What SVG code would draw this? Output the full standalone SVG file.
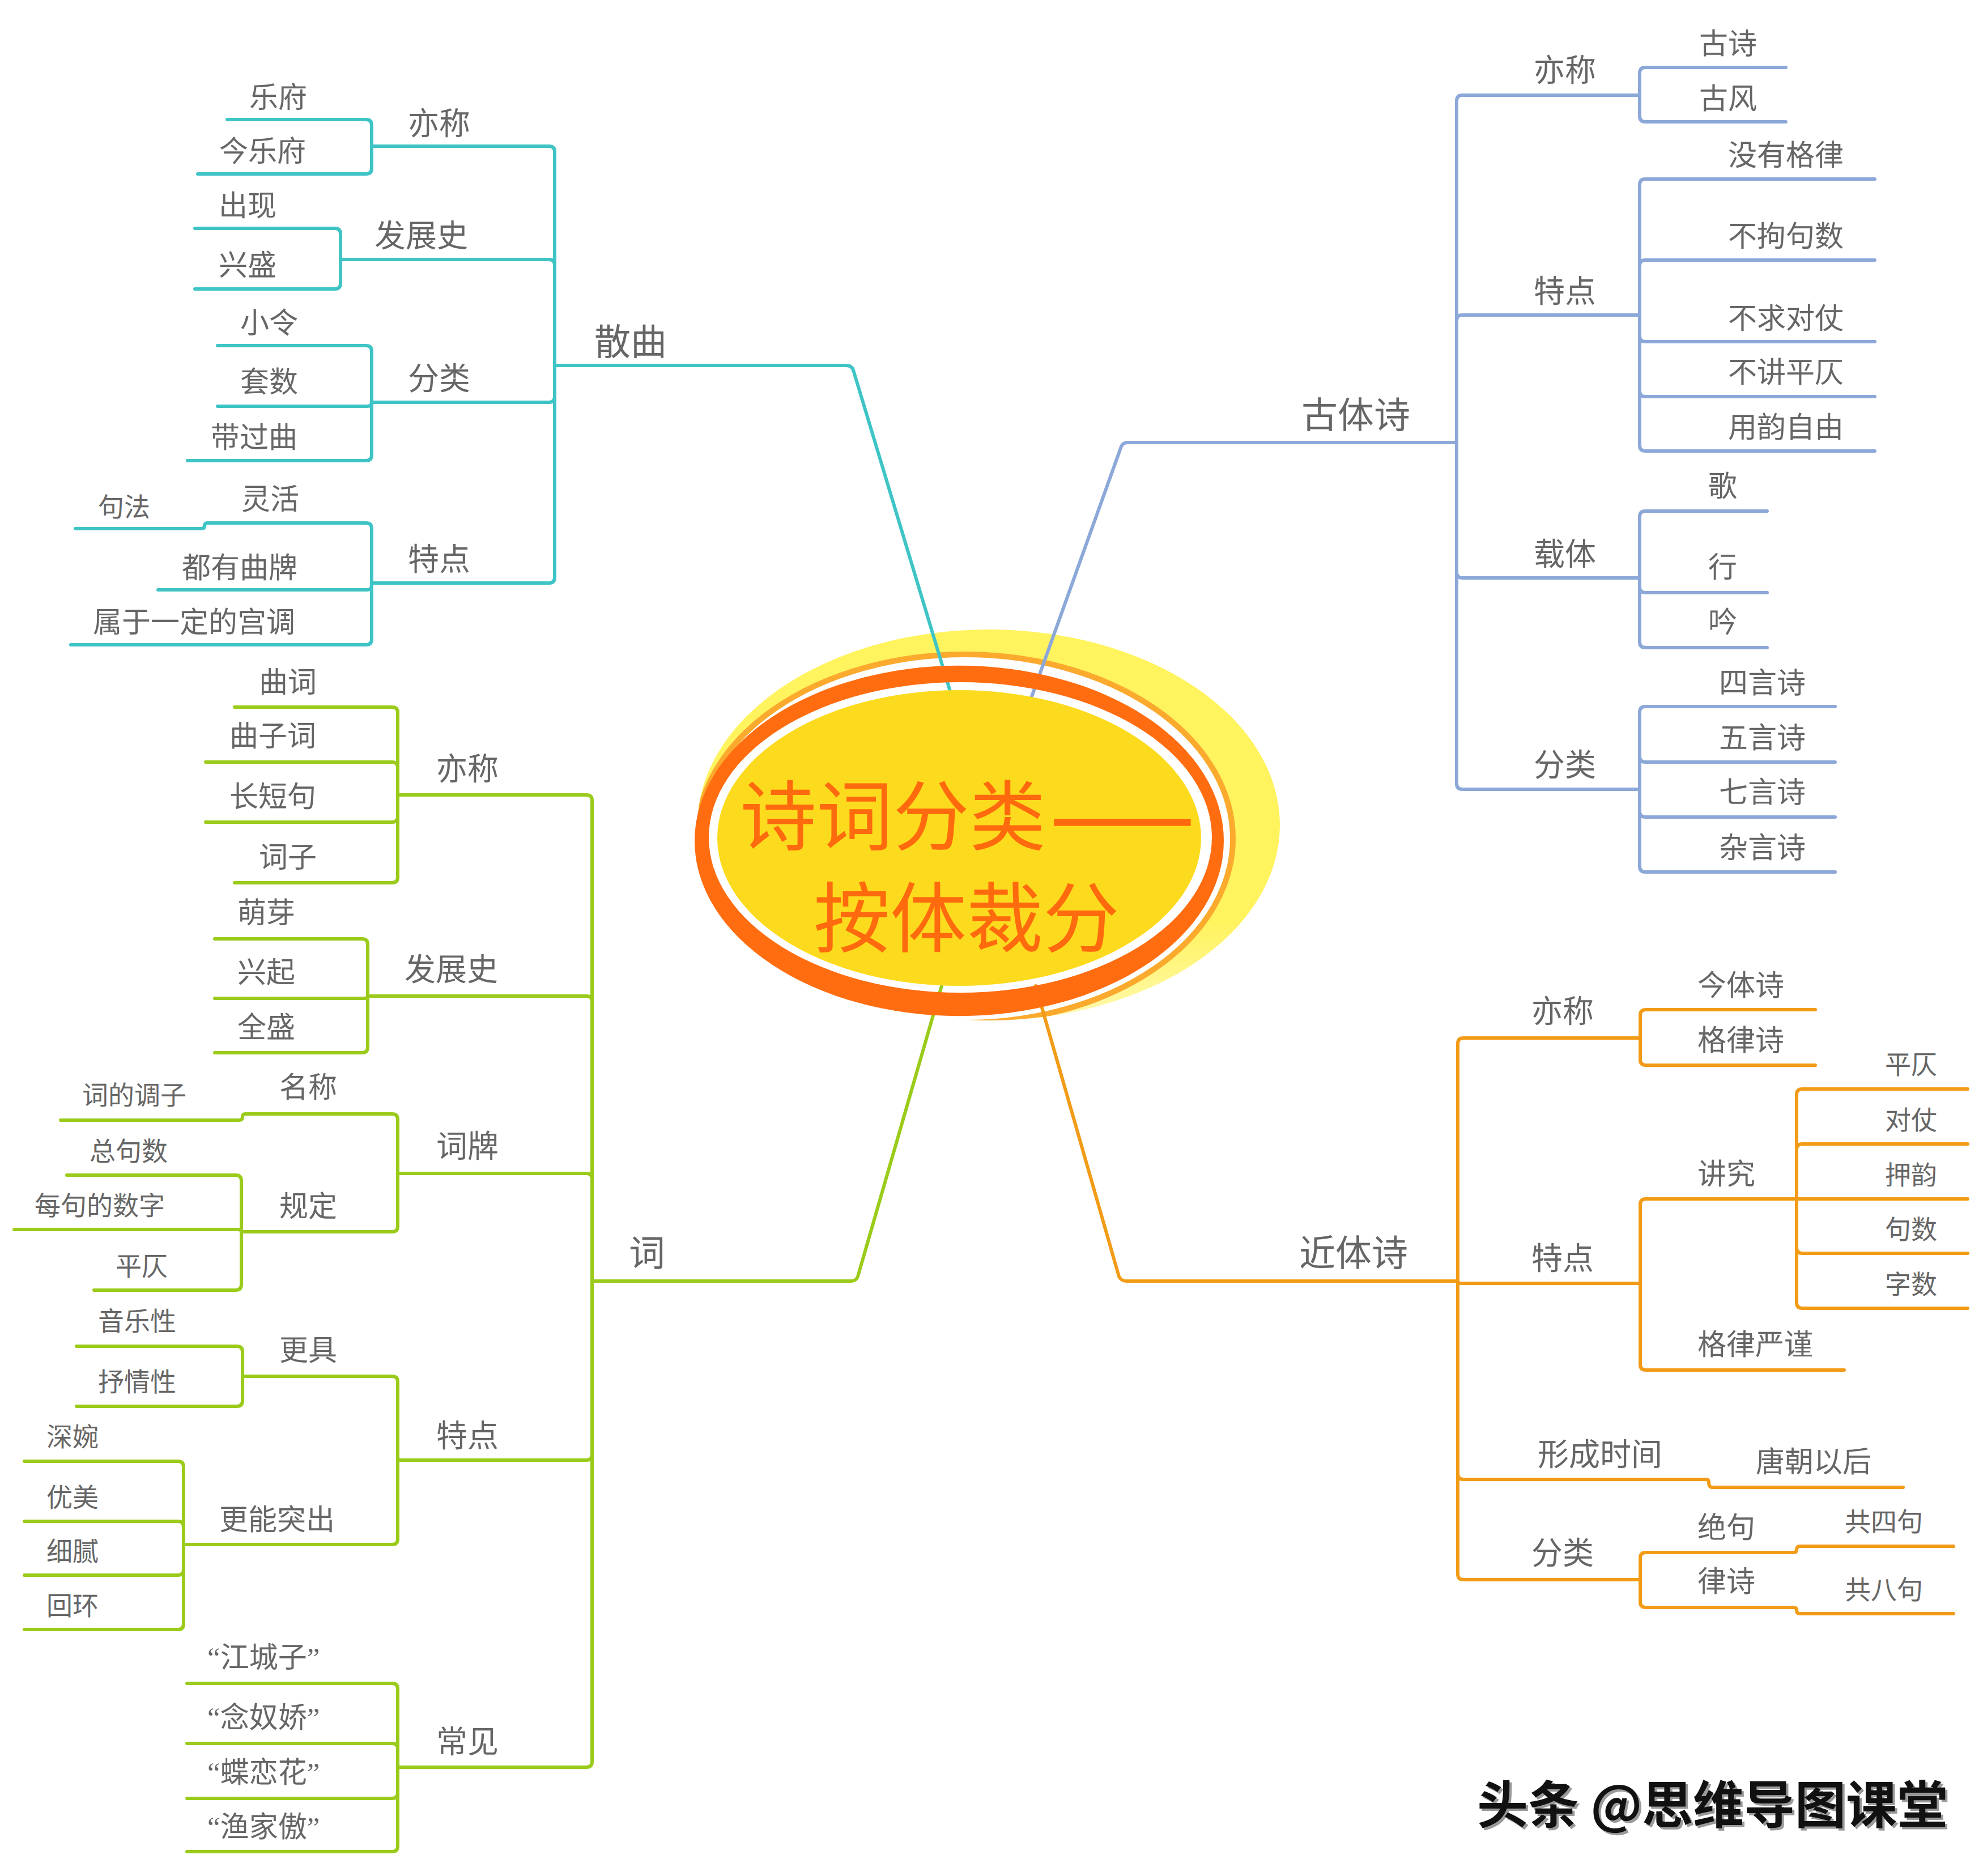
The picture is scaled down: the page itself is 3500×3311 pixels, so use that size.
<svg xmlns="http://www.w3.org/2000/svg" width="3500" height="3311" viewBox="0 0 3500 3311">
<defs>
<style>
.t{font-family:"Liberation Serif","Noto Sans CJK SC",serif;fill:#666666}
.l1{font-size:64px}.l2{font-size:55px}.l3{font-size:51px}.l4{font-size:46px}
.c{fill:none;stroke-width:6;stroke-linecap:round;stroke-linejoin:round}
.teal{stroke:#3FC4C6}.blue{stroke:#8CA8D8}.green{stroke:#9BCB1A}.orange{stroke:#F29B17}
.title{font-family:"Noto Sans CJK SC",sans-serif;font-size:135px;fill:#FF6A0E}
.wm{font-family:"Noto Sans CJK SC",sans-serif;font-weight:700;font-size:90px;fill:#111}
</style>
<clipPath id="glowclip"><ellipse cx="1745" cy="1456" rx="514" ry="345"/></clipPath>
<linearGradient id="glowfill" x1="0" y1="0" x2="0" y2="1">
<stop offset="0" stop-color="#FFF35E"/>
<stop offset="0.75" stop-color="#FFF35E"/>
<stop offset="1" stop-color="#FFF9B0"/>
</linearGradient>
</defs>
<rect width="3500" height="3311" fill="#ffffff"/>
<g id="center-back">
<ellipse cx="1745" cy="1456" rx="514" ry="345" fill="url(#glowfill)"/>
<ellipse cx="1703" cy="1480" rx="473" ry="325" fill="#ffffff"/>
<ellipse cx="1703" cy="1480" rx="473" ry="325" fill="none" stroke="#FBAA2E" stroke-width="10" clip-path="url(#glowclip)"/>
</g>
<g id="connectors">
<g class="c teal">
<path d="M 1680,1230 L 1506,653 Q 1503,645 1494,645 H 979"/>
<path d="M 979,645 V 268 Q 979,258 969,258 H 656"/>
<path d="M 979,645 V 468 Q 979,458 969,458 H 601"/>
<path d="M 979,645 V 700 Q 979,710 969,710 H 656"/>
<path d="M 979,645 V 1019 Q 979,1029 969,1029 H 656"/>
<path d="M 656,258 V 221 Q 656,211 646,211 H 401"/>
<path d="M 656,258 V 297 Q 656,307 646,307 H 349"/>
<path d="M 601,458 V 413 Q 601,403 591,403 H 344"/>
<path d="M 601,458 V 500 Q 601,510 591,510 H 344"/>
<path d="M 656,710 V 620 Q 656,610 646,610 H 384"/>
<path d="M 656,710 Q 656,717 648,717 H 384"/>
<path d="M 656,710 V 803 Q 656,813 646,813 H 331"/>
<path d="M 656,1029 V 933 Q 656,923 646,923 H 366 Q 361,923 361,928 Q 361,933 356,933 H 133"/>
<path d="M 656,1029 V 1033 Q 656,1041 648,1041 H 279"/>
<path d="M 656,1029 V 1128 Q 656,1138 646,1138 H 125"/>
</g>
<g class="c blue">
<path d="M 1820,1232 L 1979,788 Q 1982,781 1991,781 H 2571"/>
<path d="M 2571,781 V 178 Q 2571,168 2581,168 H 2894"/>
<path d="M 2571,781 V 566 Q 2571,556 2581,556 H 2894"/>
<path d="M 2571,781 V 1010 Q 2571,1020 2581,1020 H 2894"/>
<path d="M 2571,781 V 1383 Q 2571,1393 2581,1393 H 2894"/>
<path d="M 2894,168 V 129 Q 2894,119 2904,119 H 3152"/>
<path d="M 2894,168 V 205 Q 2894,215 2904,215 H 3152"/>
<path d="M 2894,556 V 326 Q 2894,316 2904,316 H 3309"/>
<path d="M 2894,556 V 469 Q 2894,459 2904,459 H 3309"/>
<path d="M 2894,556 V 593 Q 2894,603 2904,603 H 3309"/>
<path d="M 2894,556 V 690 Q 2894,700 2904,700 H 3309"/>
<path d="M 2894,556 V 786 Q 2894,796 2904,796 H 3309"/>
<path d="M 2894,1020 V 912 Q 2894,902 2904,902 H 3119"/>
<path d="M 2894,1020 V 1036 Q 2894,1046 2904,1046 H 3119"/>
<path d="M 2894,1020 V 1133 Q 2894,1143 2904,1143 H 3119"/>
<path d="M 2894,1393 V 1257 Q 2894,1247 2904,1247 H 3239"/>
<path d="M 2894,1393 V 1335 Q 2894,1345 2904,1345 H 3239"/>
<path d="M 2894,1393 V 1432 Q 2894,1442 2904,1442 H 3239"/>
<path d="M 2894,1393 V 1529 Q 2894,1539 2904,1539 H 3239"/>
</g>
<g class="c green">
<path d="M 1662,1740 L 1514,2253 Q 1511,2261 1502,2261 H 1045"/>
<path d="M 1045,2261 V 1413 Q 1045,1403 1035,1403 H 702"/>
<path d="M 1045,2261 V 1768 Q 1045,1758 1035,1758 H 649"/>
<path d="M 1045,2261 V 2081 Q 1045,2071 1035,2071 H 702"/>
<path d="M 1045,2261 V 2567 Q 1045,2577 1035,2577 H 702"/>
<path d="M 1045,2261 V 3109 Q 1045,3119 1035,3119 H 702"/>
<path d="M 702,1403 V 1258 Q 702,1248 692,1248 H 414"/>
<path d="M 702,1403 V 1355 Q 702,1345 692,1345 H 363"/>
<path d="M 702,1403 V 1441 Q 702,1451 692,1451 H 363"/>
<path d="M 702,1403 V 1548 Q 702,1558 692,1558 H 414"/>
<path d="M 649,1758 V 1667 Q 649,1657 639,1657 H 379"/>
<path d="M 649,1758 Q 649,1762 643,1762 H 379"/>
<path d="M 649,1758 V 1848 Q 649,1858 639,1858 H 379"/>
<path d="M 702,2071 V 1976 Q 702,1966 692,1966 H 433 Q 428,1966 428,1971 Q 428,1977 422,1977 H 107"/>
<path d="M 702,2071 V 2164 Q 702,2174 692,2174 H 426"/>
<path d="M 426,2174 V 2084 Q 426,2074 416,2074 H 118"/>
<path d="M 426,2174 Q 426,2170 420,2170 H 25"/>
<path d="M 426,2174 V 2267 Q 426,2277 416,2277 H 166"/>
<path d="M 702,2577 V 2439 Q 702,2429 692,2429 H 428"/>
<path d="M 702,2577 V 2716 Q 702,2726 692,2726 H 324"/>
<path d="M 428,2429 V 2386 Q 428,2376 418,2376 H 135"/>
<path d="M 428,2429 V 2472 Q 428,2482 418,2482 H 135"/>
<path d="M 324,2726 V 2589 Q 324,2579 314,2579 H 43"/>
<path d="M 324,2726 V 2695 Q 324,2685 314,2685 H 43"/>
<path d="M 324,2726 V 2770 Q 324,2780 314,2780 H 43"/>
<path d="M 324,2726 V 2866 Q 324,2876 314,2876 H 43"/>
<path d="M 702,3119 V 2981 Q 702,2971 692,2971 H 330"/>
<path d="M 702,3119 V 3087 Q 702,3077 692,3077 H 330"/>
<path d="M 702,3119 V 3164 Q 702,3174 692,3174 H 330"/>
<path d="M 702,3119 V 3258 Q 702,3268 692,3268 H 330"/>
</g>
<g class="c orange">
<path d="M 1828,1740 L 1975,2253 Q 1979,2261 1988,2261 H 2573"/>
<path d="M 2573,2261 V 1842 Q 2573,1832 2583,1832 H 2895"/>
<path d="M 2573,2261 Q 2573,2265 2579,2265 H 2895"/>
<path d="M 2573,2261 V 2601 Q 2573,2611 2583,2611 H 3011 Q 3016,2611 3016,2616 Q 3016,2625 3022,2625 H 3359"/>
<path d="M 2573,2261 V 2778 Q 2573,2788 2583,2788 H 2895"/>
<path d="M 2895,1832 V 1792 Q 2895,1782 2905,1782 H 3204"/>
<path d="M 2895,1832 V 1870 Q 2895,1880 2905,1880 H 3204"/>
<path d="M 2895,2265 V 2126 Q 2895,2116 2905,2116 H 3171"/>
<path d="M 2895,2265 V 2408 Q 2895,2418 2905,2418 H 3255"/>
<path d="M 3171,2116 V 1932 Q 3171,1922 3181,1922 H 3473"/>
<path d="M 3171,2116 V 2029 Q 3171,2019 3181,2019 H 3473"/>
<path d="M 3171,2116 H 3473"/>
<path d="M 3171,2116 V 2202 Q 3171,2212 3181,2212 H 3473"/>
<path d="M 3171,2116 V 2299 Q 3171,2309 3181,2309 H 3473"/>
<path d="M 2895,2788 V 2750 Q 2895,2740 2905,2740 H 3166 Q 3171,2740 3171,2735 Q 3171,2729 3177,2729 H 3448"/>
<path d="M 2895,2788 V 2827 Q 2895,2837 2905,2837 H 3166 Q 3171,2837 3171,2842 Q 3171,2848 3177,2848 H 3448"/>
</g>
</g>
<g id="root">
<path d="M 1226,1484 a 467,309 0 1,0 934,0 a 467,309 0 1,0 -934,0 Z M 1251,1478 a 444,274 0 1,0 888,0 a 444,274 0 1,0 -888,0 Z" fill="#FF6D10" fill-rule="evenodd"/>
<ellipse cx="1693" cy="1479" rx="427" ry="261" fill="#FCDB1E"/>
<text class="title" x="1306" y="1490">诗词分类</text>
<text class="title" x="1853" y="1490" font-weight="700" textLength="256" lengthAdjust="spacingAndGlyphs">——</text>
<text class="title" x="1436" y="1670">按体裁分</text>
</g>
<g id="n-sanqu"><text class="t l1" x="1049" y="626">散曲</text></g>
<g id="n-sanqu-yc"><text class="t l2" x="720" y="237">亦称</text></g>
<g id="n-sanqu-fzs"><text class="t l2" x="661" y="435">发展史</text></g>
<g id="n-sanqu-fl"><text class="t l2" x="720" y="687">分类</text></g>
<g id="n-sanqu-td"><text class="t l2" x="720" y="1006">特点</text></g>
<g id="n-yuefu"><text class="t l3" x="440" y="190">乐府</text></g>
<g id="n-jinyuefu"><text class="t l3" x="387" y="285">今乐府</text></g>
<g id="n-chuxian"><text class="t l3" x="386" y="381">出现</text></g>
<g id="n-xingsheng"><text class="t l3" x="386" y="486">兴盛</text></g>
<g id="n-xiaoling"><text class="t l3" x="424" y="588">小令</text></g>
<g id="n-taoshu"><text class="t l3" x="424" y="692">套数</text></g>
<g id="n-daiguoqu"><text class="t l3" x="372" y="790">带过曲</text></g>
<g id="n-linghuo"><text class="t l3" x="426" y="899">灵活</text></g>
<g id="n-jufa"><text class="t l4" x="173" y="911">句法</text></g>
<g id="n-douyouqupai"><text class="t l3" x="321" y="1020">都有曲牌</text></g>
<g id="n-shuyu"><text class="t l3" x="164" y="1116">属于一定的宫调</text></g>
<g id="n-guti"><text class="t l1" x="2297" y="755">古体诗</text></g>
<g id="n-guti-yc"><text class="t l2" x="2707" y="143">亦称</text></g>
<g id="n-guti-td"><text class="t l2" x="2707" y="533">特点</text></g>
<g id="n-guti-zt"><text class="t l2" x="2707" y="997">载体</text></g>
<g id="n-guti-fl"><text class="t l2" x="2707" y="1369">分类</text></g>
<g id="n-gushi"><text class="t l3" x="2999" y="95">古诗</text></g>
<g id="n-gufeng"><text class="t l3" x="2999" y="192">古风</text></g>
<g id="n-meiyou"><text class="t l3" x="3050" y="292">没有格律</text></g>
<g id="n-buju"><text class="t l3" x="3050" y="435">不拘句数</text></g>
<g id="n-buqiu"><text class="t l3" x="3050" y="580">不求对仗</text></g>
<g id="n-bujiang"><text class="t l3" x="3050" y="675">不讲平仄</text></g>
<g id="n-yongyun"><text class="t l3" x="3050" y="772">用韵自由</text></g>
<g id="n-ge"><text class="t l3" x="3015" y="876">歌</text></g>
<g id="n-xing"><text class="t l3" x="3015" y="1019">行</text></g>
<g id="n-yin"><text class="t l3" x="3015" y="1116">吟</text></g>
<g id="n-siyan"><text class="t l3" x="3034" y="1223">四言诗</text></g>
<g id="n-wuyan"><text class="t l3" x="3034" y="1320">五言诗</text></g>
<g id="n-qiyan"><text class="t l3" x="3034" y="1416">七言诗</text></g>
<g id="n-zayan"><text class="t l3" x="3034" y="1514">杂言诗</text></g>
<g id="n-ci"><text class="t l1" x="1110" y="2234">词</text></g>
<g id="n-ci-yc"><text class="t l2" x="770" y="1376">亦称</text></g>
<g id="n-ci-fzs"><text class="t l2" x="714" y="1730">发展史</text></g>
<g id="n-ci-cp"><text class="t l2" x="770" y="2042">词牌</text></g>
<g id="n-ci-td"><text class="t l2" x="770" y="2553">特点</text></g>
<g id="n-ci-cj"><text class="t l2" x="770" y="3093">常见</text></g>
<g id="n-quci"><text class="t l3" x="457" y="1222">曲词</text></g>
<g id="n-quzici"><text class="t l3" x="405" y="1317">曲子词</text></g>
<g id="n-changduanju"><text class="t l3" x="405" y="1424">长短句</text></g>
<g id="n-cizi"><text class="t l3" x="457" y="1531">词子</text></g>
<g id="n-mengya"><text class="t l3" x="419" y="1629">萌芽</text></g>
<g id="n-xingqi"><text class="t l3" x="419" y="1734">兴起</text></g>
<g id="n-quansheng"><text class="t l3" x="419" y="1831">全盛</text></g>
<g id="n-mingcheng"><text class="t l3" x="493" y="1937">名称</text></g>
<g id="n-cidediaozi"><text class="t l4" x="145" y="1949">词的调子</text></g>
<g id="n-guiding"><text class="t l3" x="493" y="2147">规定</text></g>
<g id="n-zongjushu"><text class="t l4" x="158" y="2048">总句数</text></g>
<g id="n-meiju"><text class="t l4" x="61" y="2144">每句的数字</text></g>
<g id="n-ci-pingze"><text class="t l4" x="204" y="2251">平仄</text></g>
<g id="n-gengju"><text class="t l3" x="493" y="2401">更具</text></g>
<g id="n-yinyuexing"><text class="t l4" x="173" y="2348">音乐性</text></g>
<g id="n-shuqingxing"><text class="t l4" x="173" y="2455">抒情性</text></g>
<g id="n-gengneng"><text class="t l3" x="387" y="2700">更能突出</text></g>
<g id="n-shenwan"><text class="t l4" x="82" y="2552">深婉</text></g>
<g id="n-youmei"><text class="t l4" x="82" y="2659">优美</text></g>
<g id="n-xini"><text class="t l4" x="82" y="2754">细腻</text></g>
<g id="n-huihuan"><text class="t l4" x="82" y="2850">回环</text></g>
<g id="n-jiangchengzi"><text class="t l3" x="366" y="2943">“江城子”</text></g>
<g id="n-niannujiao"><text class="t l3" x="366" y="3049">“念奴娇”</text></g>
<g id="n-dielianhua"><text class="t l3" x="366" y="3146">“蝶恋花”</text></g>
<g id="n-yujiaao"><text class="t l3" x="366" y="3242">“渔家傲”</text></g>
<g id="n-jinti"><text class="t l1" x="2293" y="2234">近体诗</text></g>
<g id="n-jinti-yc"><text class="t l2" x="2703" y="1804">亦称</text></g>
<g id="n-jinti-td"><text class="t l2" x="2703" y="2240">特点</text></g>
<g id="n-jinti-xc"><text class="t l2" x="2714" y="2586">形成时间</text></g>
<g id="n-jinti-fl"><text class="t l2" x="2703" y="2760">分类</text></g>
<g id="n-jintishi"><text class="t l3" x="2996" y="1757">今体诗</text></g>
<g id="n-gelvshi"><text class="t l3" x="2996" y="1854">格律诗</text></g>
<g id="n-jiangjiu"><text class="t l3" x="2996" y="2090">讲究</text></g>
<g id="n-gelvyanjin"><text class="t l3" x="2996" y="2391">格律严谨</text></g>
<g id="n-pingze"><text class="t l4" x="3327" y="1895">平仄</text></g>
<g id="n-duizhang"><text class="t l4" x="3327" y="1993">对仗</text></g>
<g id="n-yayun"><text class="t l4" x="3327" y="2090">押韵</text></g>
<g id="n-jushu"><text class="t l4" x="3327" y="2186">句数</text></g>
<g id="n-zishu"><text class="t l4" x="3327" y="2283">字数</text></g>
<g id="n-tangchao"><text class="t l3" x="3099" y="2598">唐朝以后</text></g>
<g id="n-jueju"><text class="t l3" x="2996" y="2714">绝句</text></g>
<g id="n-lvshi"><text class="t l3" x="2996" y="2809">律诗</text></g>
<g id="n-gongsiju"><text class="t l4" x="3256" y="2702">共四句</text></g>
<g id="n-gongbaju"><text class="t l4" x="3256" y="2822">共八句</text></g>
<g id="watermark">
<text class="wm" x="2611" y="3222" style="fill:#9a9a9a">头条 @思维导图课堂</text>
<text class="wm" x="2607" y="3218">头条 @思维导图课堂</text>
</g>
</svg>
